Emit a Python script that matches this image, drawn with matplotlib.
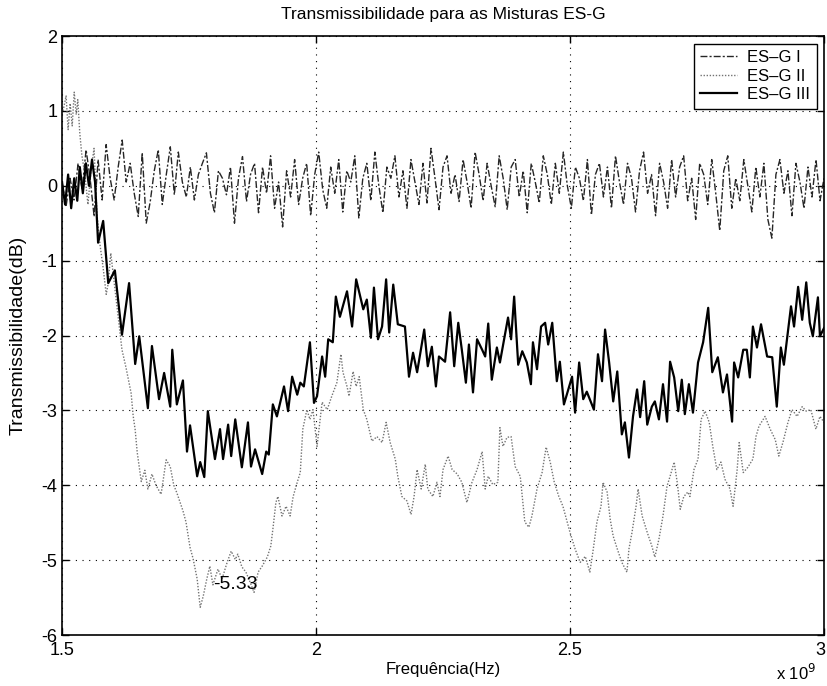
import numpy as np
import matplotlib
matplotlib.use("Agg")
import matplotlib.pyplot as plt
import matplotlib.transforms as mtransforms
from matplotlib.ticker import FuncFormatter

plt.rcParams['font.family'] = ['Liberation Sans', 'DejaVu Sans']
plt.rcParams['axes.unicode_minus'] = False

# ES-G I : varredura uniforme (GHz)
freq_i = np.linspace(1.5, 3.0, 191)
trans_i = [
    0.05, -0.28, 0.10, -0.19, 0.30, -0.05, 0.48, 0.10, -0.41, 0.35,
    -0.19, 0.55, 0.10, -0.19, 0.25, 0.61, 0.05, 0.30, -0.10, -0.41,
    0.44, -0.50, -0.21, 0.20, 0.48, -0.25, 0.15, 0.52, -0.12, 0.45,
    0.05, -0.15, 0.25, -0.19, 0.15, 0.30, 0.44, -0.10, -0.36, 0.20,
    0.10, -0.12, 0.25, -0.50, 0.10, 0.39, -0.21, 0.15, 0.30, -0.36,
    0.25, -0.10, 0.40, -0.30, 0.05, -0.55, 0.20, -0.15, 0.35, -0.25,
    0.10, 0.30, -0.40, 0.15, 0.45, -0.05, -0.30, 0.25, -0.10, 0.35,
    -0.35, 0.20, 0.05, 0.40, -0.43, 0.10, 0.30, -0.20, 0.45, 0.00,
    -0.36, 0.25, 0.10, 0.40, -0.15, 0.20, -0.30, 0.35, 0.05, -0.25,
    0.30, -0.23, 0.50, 0.10, -0.32, 0.25, 0.40, -0.10, 0.15, -0.21,
    0.35, 0.05, -0.30, 0.45, 0.15, -0.20, 0.30, 0.00, -0.28, 0.40,
    0.10, -0.32, 0.25, 0.35, -0.15, 0.20, -0.36, 0.30, 0.05, -0.23,
    0.40, 0.15, -0.25, 0.30, -0.10, 0.45, 0.00, -0.30, 0.25, 0.10,
    -0.20, 0.35, -0.39, 0.15, 0.30, -0.15, 0.25, -0.30, 0.40, 0.05,
    -0.25, 0.30, 0.10, -0.35, 0.20, 0.45, -0.10, 0.15, -0.40, 0.30,
    0.05, -0.30, 0.35, -0.15, 0.25, 0.40, -0.20, 0.10, -0.45, 0.30,
    0.15, -0.25, 0.35, -0.10, -0.60, 0.20, 0.40, -0.30, 0.10, -0.20,
    0.35, 0.00, -0.35, 0.25, -0.15, 0.30, -0.45, -0.70, 0.15, 0.35,
    -0.10, 0.20, -0.40, 0.30, 0.05, -0.30, 0.25, -0.15, 0.35, -0.20, 0.10,
]

# ES-G II
freq_ii = [
    1.502, 1.508, 1.512, 1.516, 1.520, 1.524, 1.528, 1.531, 1.535, 1.539,
    1.545, 1.551, 1.557, 1.563, 1.569, 1.575, 1.581, 1.587, 1.591, 1.596,
    1.602, 1.608, 1.618, 1.626, 1.636, 1.640, 1.644, 1.648, 1.656, 1.663,
    1.669, 1.677, 1.685, 1.695, 1.705, 1.713, 1.720, 1.726, 1.738, 1.744,
    1.752, 1.758, 1.766, 1.772, 1.778, 1.785, 1.791, 1.797, 1.807, 1.815,
    1.825, 1.833, 1.841, 1.846, 1.854, 1.862, 1.870, 1.878, 1.886, 1.894,
    1.904, 1.911, 1.915, 1.921, 1.925, 1.933, 1.941, 1.949, 1.955, 1.963,
    1.969, 1.974, 1.982, 1.988, 1.994, 2.002, 2.012, 2.022, 2.031, 2.041,
    2.049, 2.053, 2.061, 2.065, 2.073, 2.079, 2.085, 2.093, 2.100, 2.110,
    2.120, 2.130, 2.138, 2.146, 2.156, 2.161, 2.169, 2.179, 2.187, 2.193,
    2.199, 2.207, 2.215, 2.220, 2.230, 2.238, 2.244, 2.250, 2.260, 2.268,
    2.278, 2.287, 2.297, 2.307, 2.317, 2.327, 2.333, 2.339, 2.348, 2.358,
    2.362, 2.368, 2.376, 2.384, 2.392, 2.402, 2.406, 2.411, 2.419, 2.425,
    2.435, 2.445, 2.453, 2.461, 2.469, 2.478, 2.486, 2.500, 2.510, 2.520,
    2.530, 2.539, 2.545, 2.553, 2.561, 2.565, 2.573, 2.579, 2.585, 2.593,
    2.602, 2.612, 2.616, 2.622, 2.630, 2.634, 2.642, 2.652, 2.661, 2.667,
    2.675, 2.683, 2.691, 2.697, 2.705, 2.711, 2.717, 2.724, 2.732, 2.736,
    2.744, 2.752, 2.758, 2.766, 2.774, 2.781, 2.789, 2.797, 2.805, 2.815,
    2.821, 2.829, 2.833, 2.841, 2.850, 2.860, 2.866, 2.872, 2.884, 2.894,
    2.904, 2.911, 2.919, 2.929, 2.937, 2.947, 2.957, 2.965, 2.974, 2.984,
    2.992, 3.000,
]
trans_ii = [
    1.00, 1.20, 0.75, 1.10, 0.80, 1.25, 0.95, 1.15, 0.70, 0.41,
    0.15, -0.25, 0.20, 0.50, -0.40, -0.80, -1.10, -1.45, -1.30, -0.90,
    -1.25, -1.60, -2.19, -2.43, -2.77, -3.07, -3.26, -3.56, -3.95, -3.80,
    -4.05, -3.85, -4.00, -4.12, -3.66, -3.75, -4.00, -4.10, -4.34, -4.49,
    -4.83, -4.98, -5.25, -5.63, -5.48, -5.25, -5.08, -5.33, -5.12, -5.25,
    -5.03, -4.88, -4.99, -4.92, -5.09, -5.16, -5.29, -5.43, -5.16, -5.08,
    -4.96, -4.81, -4.59, -4.23, -4.15, -4.41, -4.28, -4.41, -4.15, -3.96,
    -3.83, -3.25, -2.99, -3.12, -2.99, -3.48, -2.89, -2.99, -2.81, -2.63,
    -2.25, -2.49, -2.68, -2.81, -2.48, -2.68, -2.55, -2.99, -3.12, -3.41,
    -3.35, -3.43, -3.16, -3.43, -3.65, -3.88, -4.15, -4.21, -4.39, -4.15,
    -3.79, -4.05, -3.72, -4.05, -4.15, -3.96, -4.15, -3.79, -3.61, -3.79,
    -3.85, -3.96, -4.23, -3.96, -3.79, -3.55, -4.05, -3.88, -3.99, -3.96,
    -3.23, -3.48, -3.36, -3.35, -3.75, -3.88, -4.15, -4.49, -4.56, -4.41,
    -4.05, -3.83, -3.49, -3.69, -3.96, -4.15, -4.28, -4.63, -4.85, -5.03,
    -4.95, -5.16, -4.89, -4.49, -4.28, -3.96, -4.09, -4.45, -4.68, -4.85,
    -5.03, -5.16, -4.85, -4.63, -4.28, -4.05, -4.41, -4.63, -4.81, -4.96,
    -4.72, -4.41, -4.01, -3.88, -3.69, -3.96, -4.32, -4.15, -4.09, -4.15,
    -3.79, -3.65, -3.12, -3.01, -3.16, -3.48, -3.79, -3.69, -3.92, -4.05,
    -4.28, -3.79, -3.43, -3.83, -3.76, -3.65, -3.35, -3.21, -3.08, -3.25,
    -3.39, -3.61, -3.43, -3.16, -2.99, -3.08, -2.95, -3.01, -2.99, -3.25,
    -3.08, -3.16,
]

# ES-G III
freq_iii = [
    1.500, 1.506, 1.512, 1.518, 1.524, 1.530, 1.535, 1.541, 1.547, 1.553,
    1.559, 1.565, 1.571, 1.581, 1.591, 1.604, 1.618, 1.632, 1.644, 1.652,
    1.669, 1.677, 1.691, 1.701, 1.713, 1.717, 1.726, 1.738, 1.746, 1.752,
    1.766, 1.772, 1.780, 1.787, 1.801, 1.811, 1.817, 1.827, 1.833, 1.841,
    1.854, 1.866, 1.872, 1.880, 1.894, 1.902, 1.907, 1.915, 1.923, 1.937,
    1.945, 1.953, 1.963, 1.969, 1.976, 1.988, 1.996, 2.002, 2.012, 2.018,
    2.024, 2.033, 2.039, 2.047, 2.061, 2.071, 2.079, 2.093, 2.100, 2.108,
    2.114, 2.122, 2.130, 2.138, 2.144, 2.152, 2.161, 2.175, 2.183, 2.191,
    2.199, 2.213, 2.220, 2.228, 2.236, 2.242, 2.254, 2.264, 2.272, 2.280,
    2.287, 2.295, 2.301, 2.309, 2.317, 2.327, 2.333, 2.339, 2.346, 2.356,
    2.362, 2.378, 2.384, 2.390, 2.398, 2.406, 2.415, 2.423, 2.427, 2.435,
    2.443, 2.451, 2.457, 2.465, 2.474, 2.480, 2.488, 2.504, 2.510, 2.518,
    2.526, 2.533, 2.547, 2.555, 2.563, 2.569, 2.577, 2.585, 2.593, 2.602,
    2.608, 2.616, 2.624, 2.632, 2.638, 2.646, 2.652, 2.661, 2.667, 2.675,
    2.683, 2.691, 2.697, 2.705, 2.713, 2.720, 2.726, 2.734, 2.742, 2.752,
    2.762, 2.772, 2.780, 2.791, 2.801, 2.809, 2.819, 2.823, 2.831, 2.841,
    2.848, 2.854, 2.860, 2.868, 2.876, 2.888, 2.898, 2.907, 2.915, 2.921,
    2.935, 2.941, 2.949, 2.957, 2.965, 2.972, 2.978, 2.988, 2.992, 3.000,
]
trans_iii = [
    0.05, -0.25, 0.15, -0.30, 0.10, -0.20, 0.25, -0.10, 0.30, 0.00,
    0.35, 0.05, -0.76, -0.47, -1.30, -1.13, -1.99, -1.30, -2.38, -2.01,
    -2.97, -2.14, -2.85, -2.50, -2.95, -2.19, -2.92, -2.60, -3.55, -3.20,
    -3.88, -3.69, -3.89, -3.01, -3.65, -3.25, -3.65, -3.19, -3.61, -3.12,
    -3.76, -3.16, -3.75, -3.52, -3.85, -3.55, -3.59, -2.92, -3.08, -2.68,
    -3.01, -2.55, -2.79, -2.63, -2.68, -2.09, -2.90, -2.81, -2.28, -2.55,
    -2.05, -2.09, -1.48, -1.75, -1.41, -1.88, -1.25, -1.65, -1.52, -2.03,
    -1.36, -2.05, -1.88, -1.25, -1.96, -1.32, -1.85, -1.88, -2.55, -2.23,
    -2.49, -1.92, -2.41, -2.15, -2.68, -2.28, -2.35, -1.69, -2.41, -1.83,
    -2.19, -2.63, -2.12, -2.76, -2.05, -2.19, -2.28, -1.84, -2.59, -2.16,
    -2.36, -1.76, -2.05, -1.48, -2.39, -2.21, -2.36, -2.65, -2.09, -2.45,
    -1.88, -1.83, -2.12, -1.83, -2.61, -2.35, -2.92, -2.55, -3.03, -2.36,
    -2.85, -2.75, -2.99, -2.25, -2.61, -1.92, -2.36, -2.88, -2.48, -3.32,
    -3.16, -3.63, -3.08, -2.72, -3.09, -2.61, -3.19, -2.95, -2.88, -3.12,
    -2.65, -3.15, -2.35, -2.56, -3.01, -2.59, -3.05, -2.65, -3.03, -2.36,
    -2.09, -1.63, -2.49, -2.29, -2.76, -2.52, -3.15, -2.36, -2.56, -2.19,
    -2.19, -2.56, -1.88, -2.16, -1.85, -2.28, -2.29, -2.95, -2.16, -2.39,
    -1.61, -1.88, -1.35, -1.79, -1.29, -1.83, -2.01, -1.49, -2.01, -1.90,
]

x_ticks = [1.5e9, 2.0e9, 2.5e9, 3.0e9]
y_ticks = [-6, -5, -4, -3, -2, -1, 0, 1, 2]
min_freq, min_val = 1.797, -5.33

fig = plt.figure(figsize=(8.27, 6.86), dpi=100)
ax = fig.add_axes([0.075, 0.0743, 0.9214, 0.8732])

ax.plot(freq_i * 1e9, trans_i, color='0.15', lw=1.0,
        linestyle=(0, (5, 1.5, 1.5, 1.5)), label='ES–G I')
ax.plot(np.array(freq_ii) * 1e9, trans_ii, color='0.45', lw=1.0,
        linestyle=(0, (1, 1.2)), label='ES–G II')
ax.plot(np.array(freq_iii) * 1e9, trans_iii, color='k', lw=1.6,
        label='ES–G III')

ax.text(min_freq * 1e9, min_val, '-5.33', fontsize=14, ha='left', va='center')

ax.set_xlim(1.5e9, 3.0e9)
ax.set_ylim(-6, 2)
ax.set_xticks(x_ticks)
ax.set_yticks(y_ticks)
ax.xaxis.set_major_formatter(FuncFormatter(lambda v, p: f"{v / 1e9:g}"))
ax.tick_params(direction='in', top=True, right=True, length=5,
               labelsize=13, width=1)
ax.tick_params(axis='x', pad=5)
ax.grid(True, color='k', linestyle=(0, (1, 5)), lw=0.8)
for s in ax.spines.values():
    s.set_linewidth(1.2)

# o ultimo rotulo do eixo x fica encostado na borda da figura
last = ax.get_xticklabels()[-1]
last.set_transform(last.get_transform() +
                   mtransforms.ScaledTranslation(-4 / 100, 0, fig.dpi_scale_trans))

ax.set_title('Transmissibilidade para as Misturas ES-G', fontsize=12.5, pad=12)
ax.set_xlabel('Frequência(Hz)', fontsize=12, labelpad=2)
ax.set_ylabel('Transmissibilidade(dB)', fontsize=14)
ax.yaxis.set_label_coords(-0.046, 0.5)
ax.text(0.99, -0.064, r'x 10$^9$', transform=ax.transAxes, fontsize=12,
        ha='right', va='center')

leg = ax.legend(loc='upper right', fontsize=12, fancybox=False, framealpha=1,
                edgecolor='k', handlelength=2.2, handletextpad=0.6,
                borderaxespad=0.45, labelspacing=0.2)
leg.get_frame().set_linewidth(1.0)

fig.savefig('out.png', dpi=100)
